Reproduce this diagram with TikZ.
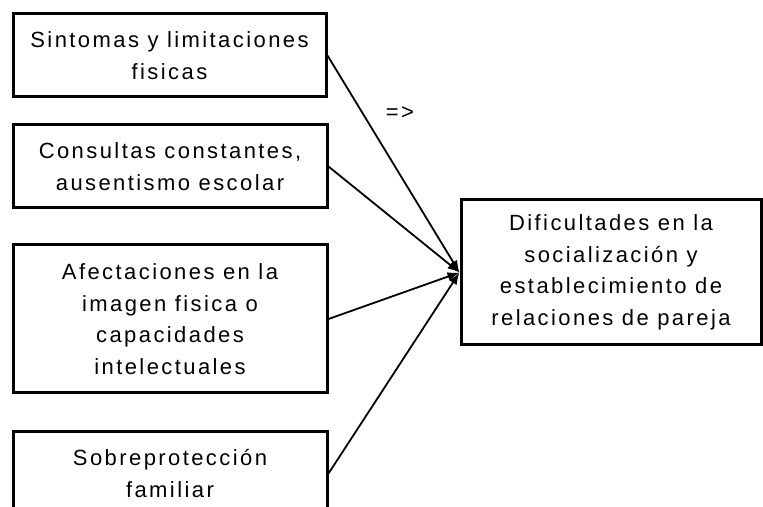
\documentclass[tikz,border=0pt]{standalone}
\usepackage{fontspec}
\setmainfont{Liberation Sans}[LetterSpace=11]
\usetikzlibrary{arrows.meta}

\begin{document}
\begin{tikzpicture}[x=1pt,y=1pt,
        caja/.style={draw,line width=3pt,align=center,inner sep=0pt,
            font=\fontsize{22}{31.5}\selectfont},
        linea/.style={line width=1.8pt,-{Latex[length=12pt,width=9pt]}}]
            \useasboundingbox (0,0) rectangle (763,506);
            
            \node[caja,minimum width=313,minimum height=83] (sintomas) at (169.5,450.5) {Sintomas y limitaciones\\fisicas};
            \node[caja,minimum width=314,minimum height=83] (consultas) at (170,339.5) {Consultas constantes,\\ausentismo escolar};
            \node[caja,minimum width=314,minimum height=148] (imagen) at (170,187) {Afectaciones en la\\imagen fisica o\\capacidades\\intelectuales};
            \node[caja,minimum width=314,minimum height=83] (sobre) at (170,32.5) {Sobreprotección\\familiar};
            
            \node[caja,minimum width=300,minimum height=145] (dificultades) at (611,233.5) {Dificultades en la\\socialización y\\establecimiento de\\relaciones de pareja};
            
            \draw[linea] (sintomas.east) -- (dificultades.west);
            \draw[linea] (consultas.east) -- (dificultades.west);
            \draw[linea] (imagen.east) -- (dificultades.west);
            \draw[linea] (sobre.east) -- (dificultades.west);
            
            \node[font=\fontsize{22}{31.5}\selectfont] (implica) at (400,393) {=>};
        \end{tikzpicture}
\end{document}
